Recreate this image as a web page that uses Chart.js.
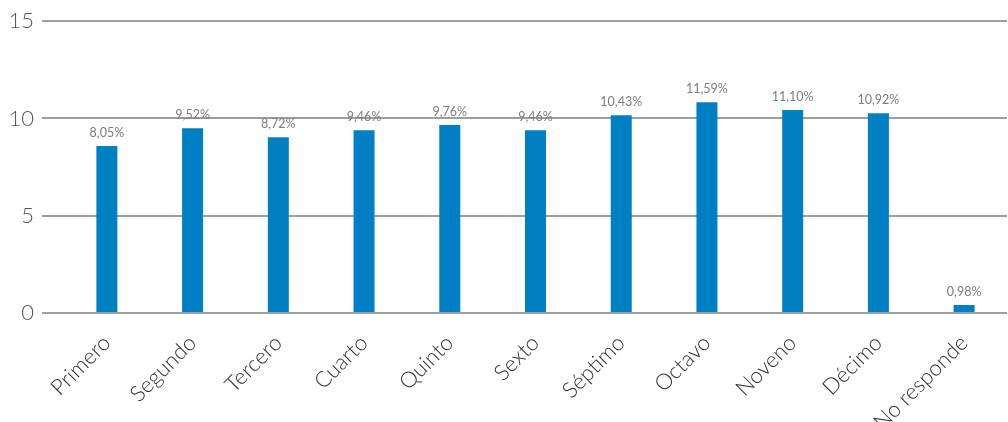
<!DOCTYPE html>
<html>
<head>
<meta charset="utf-8">
<script src="https://cdn.jsdelivr.net/npm/chart.js@4/dist/chart.umd.min.js"></script>
<style>
  html, body { margin: 0; padding: 0; background: #fff; }
  #wrap { width: 1008px; height: 422px; position: relative; }
</style>
</head>
<body>
<div id="wrap"><canvas id="c"></canvas></div>
<script>
const categories = ["Primero", "Segundo", "Tercero", "Cuarto", "Quinto", "Sexto", "Séptimo", "Octavo", "Noveno", "Décimo", "No responde"];
const barValues = [8.58, 9.50, 9.04, 9.40, 9.66, 9.40, 10.17, 10.84, 10.43, 10.27, 0.41];
const valueLabels = ["8,05%", "9,52%", "8,72%", "9,46%", "9,76%", "9,46%", "10,43%", "11,59%", "11,10%", "10,92%", "0,98%"];
const yTicks = [0, 5, 10, 15];

const FONT = "Lato, 'Open Sans', sans-serif";

const labelPlugin = {
  id: 'valueLabels',
  afterDatasetsDraw(chart) {
    const ctx = chart.ctx;
    const meta = chart.getDatasetMeta(0);
    ctx.save();
    ctx.font = "400 12.5px " + FONT;
    ctx.fillStyle = "#7d7d7d";
    ctx.textAlign = "center";
    ctx.textBaseline = "middle";
    meta.data.forEach((bar, i) => {
      ctx.fillText(valueLabels[i], bar.x, bar.y - 13);
    });
    ctx.restore();
  }
};

new Chart(document.getElementById('c'), {
  type: 'bar',
  data: {
    labels: categories,
    datasets: [{
      data: barValues,
      backgroundColor: '#0080c4',
      borderWidth: 0,
      categoryPercentage: 1,
      barPercentage: 0.245
    }]
  },
  options: {
    responsive: true,
    maintainAspectRatio: false,
    animation: false,
    layout: { padding: { top: 10, right: 1, left: 0, bottom: 0 } },
    plugins: { legend: { display: false }, tooltip: { enabled: false } },
    scales: {
      x: {
        grid: { display: false, drawTicks: false },
        border: { display: false },
        ticks: {
          autoSkip: false,
          maxRotation: 45,
          minRotation: 45,
          padding: 17,
          color: '#333',
          font: { family: FONT, size: 22, weight: '300' }
        },
        afterFit(scale) { scale.height = 109; }
      },
      y: {
        min: 0,
        max: 15,
        afterBuildTicks(scale) { scale.ticks = yTicks.map(v => ({ value: v })); },
        grid: { color: '#9d9da2', lineWidth: 2, drawTicks: true, tickLength: 22, tickColor: '#9d9da2' },
        border: { display: false },
        ticks: {
          padding: 8,
          color: '#555',
          font: { family: FONT, size: 22, weight: '300' }
        },
        afterFit(scale) { scale.width = 64; }
      }
    }
  },
  plugins: [labelPlugin]
});
</script>
</body>
</html>
